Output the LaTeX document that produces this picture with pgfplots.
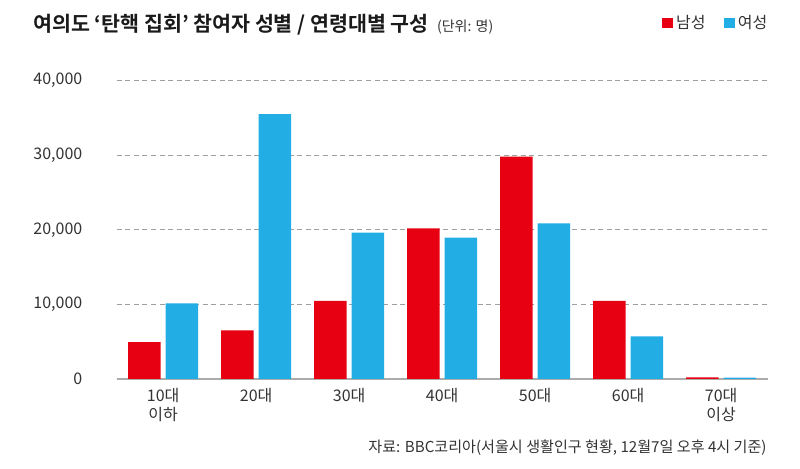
\documentclass[border=0pt]{standalone}
\usepackage{fontspec}
\setmainfont{Noto Sans CJK KR}[BoldFont={Noto Sans CJK KR Bold}]
\usepackage{pgfplots}
\pgfplotsset{compat=1.18}
\definecolor{mred}{HTML}{E60012}
\definecolor{mblue}{HTML}{23ADE5}
\definecolor{txt}{HTML}{333333}
\definecolor{ttl}{HTML}{1A1A1A}
\begin{document}
\begin{tikzpicture}[x=0.5pt,y=0.5pt]
\path[use as bounding box] (0,0) rectangle (800,469);
\begin{axis}[
  at={(58.35pt,45pt)}, anchor=south west,
  scale only axis, width=325.5pt, height=149.15pt,
  xmin=-0.5, xmax=6.5, ymin=0, ymax=40000,
  ybar=2.45pt, bar width=16.25pt,
  axis lines=left, axis line style={-},
  y axis line style={draw=none},
  x axis line style={draw=gray!65, line width=1pt},
  major tick length=0pt,
  xtick={0,1,2,3,4,5,6},
  xticklabels={{10대\\이하},{20대},{30대},{40대},{50대},{60대},{70대\\이상}},
  xticklabel style={align=center, anchor=north, inner sep=0pt, yshift=-4.5pt, text=txt, font=\fontsize{8}{9.25}\selectfont},
  ytick={0,10000,20000,30000,40000},
  scaled y ticks=false,
  /pgf/number format/assume math mode=true,
  /pgf/number format/1000 sep={,},
  yticklabel style={anchor=east, inner sep=0pt, xshift=-17pt, text=txt, font=\fontsize{8}{9}\selectfont},
  ymajorgrids, grid style={dash pattern=on 2.5pt off 1.8pt, line width=0.5pt, draw=gray!75},
  legend image code/.code={\fill[#1] (0pt,-2.65pt) rectangle (5.3pt,2.65pt);},
  legend columns=2,
  legend style={at={(1,1.193)}, anchor=east, draw=none, fill=none, inner sep=0pt,
    font=\fontsize{8}{9}\selectfont, text=txt, nodes={inner sep=0pt},
    /tikz/every odd column/.append style={column sep=1.6pt},
    /tikz/every even column/.append style={column sep=9.2pt}},
]
\addplot[fill=mred, draw=none] coordinates {(0,4950) (1,6530) (2,10460) (3,20200) (4,29810) (5,10460) (6,230)};
\addlegendentry{남성}
\addplot[fill=mblue, draw=none] coordinates {(0,10150) (1,35530) (2,19620) (3,18950) (4,20870) (5,5720) (6,180)};
\addlegendentry{여성}
\end{axis}
\node[anchor=base west, inner sep=0pt, text=ttl, font=\bfseries\fontsize{10.3}{12}\selectfont] at (33,437) {여의도 ‘탄핵 집회’ 참여자 성별 / 연령대별 구성};
\node[anchor=base west, inner sep=0pt, text=txt, font=\fontsize{7}{8}\selectfont] at (436.7,437) {(단위: 명)};
\node[anchor=base east, inner sep=0pt, text=txt, font=\fontsize{7.55}{8}\selectfont] at (767,16) {자료: BBC코리아(서울시 생활인구 현황, 12월7일 오후 4시 기준)};
\end{tikzpicture}
\end{document}
